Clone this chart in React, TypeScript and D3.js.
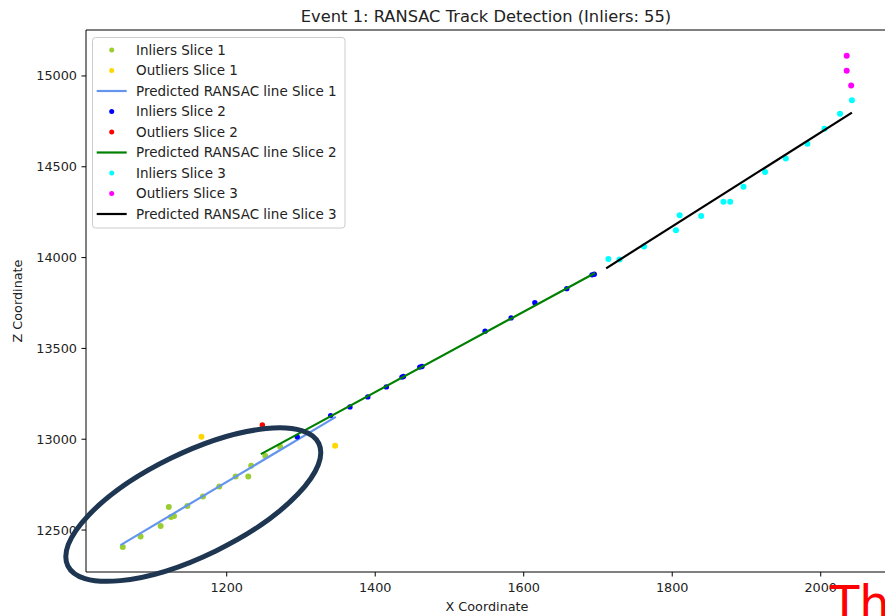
import React from "react";
import * as d3 from "d3";

// Hit positions (X, Z) per slice
const inliersSlice1: [number, number][] = [
  [1060, 12407], [1084, 12465], [1111, 12522], [1122, 12627], [1125, 12572],
  [1129, 12577], [1147, 12632], [1168, 12685], [1190, 12740], [1212, 12795],
  [1229, 12795], [1233, 12854], [1252, 12907], [1272, 12958],
];
const outliersSlice1: [number, number][] = [[1166, 13013], [1346, 12964]];
const lineSlice1: [number, number][] = [[1057, 12417], [1347, 13123]];

const inliersSlice2: [number, number][] = [
  [1295, 13013], [1340, 13130], [1366, 13178], [1390, 13233], [1415, 13288],
  [1436, 13342], [1438, 13345], [1460, 13397], [1463, 13400], [1548, 13595],
  [1583, 13668], [1615, 13752], [1658, 13829], [1692, 13905], [1695, 13908],
];
const outliersSlice2: [number, number][] = [[1248, 13079]];
const lineSlice2: [number, number][] = [[1246, 12918], [1696, 13915]];

const inliersSlice3: [number, number][] = [
  [1714, 13992], [1729, 13989], [1762, 14061], [1805, 14150], [1810, 14233],
  [1839, 14229], [1869, 14308], [1878, 14308], [1896, 14390], [1925, 14471],
  [1953, 14545], [1982, 14627], [2005, 14709], [2026, 14792], [2042, 14866],
];
const outliersSlice3: [number, number][] = [[2035, 15111], [2035, 15028], [2041, 14948]];
const lineSlice3: [number, number][] = [[1711, 13941], [2042, 14798]];

const xTicks = [1200, 1400, 1600, 1800, 2000];
const yTicks = [12500, 13000, 13500, 14000, 14500, 15000];

const title = "Event 1: RANSAC Track Detection (Inliers: 55)";

const W = 885;
const H = 616;
const left = 86, right = 890, top = 30, bottom = 572;

const x = d3.scaleLinear().domain([1010.5, 2093.3]).range([left, right]);
const y = d3.scaleLinear().domain([12269, 15253]).range([bottom, top]);

const font = "'DejaVu Sans', sans-serif";

type Layer =
  | { kind: "points"; label: string; color: string; data: [number, number][]; r: number }
  | { kind: "line"; label: string; color: string; data: [number, number][] };

const layers: Layer[] = [
  { kind: "points", label: "Inliers Slice 1", color: "#9acd32", data: inliersSlice1, r: 3 },
  { kind: "points", label: "Outliers Slice 1", color: "#ffd700", data: outliersSlice1, r: 3 },
  { kind: "line", label: "Predicted RANSAC line Slice 1", color: "#6495ed", data: lineSlice1 },
  { kind: "points", label: "Inliers Slice 2", color: "#0000ff", data: inliersSlice2, r: 2.7 },
  { kind: "points", label: "Outliers Slice 2", color: "#ff0000", data: outliersSlice2, r: 2.7 },
  { kind: "line", label: "Predicted RANSAC line Slice 2", color: "#008000", data: lineSlice2 },
  { kind: "points", label: "Inliers Slice 3", color: "#00ffff", data: inliersSlice3, r: 3 },
  { kind: "points", label: "Outliers Slice 3", color: "#ff00ff", data: outliersSlice3, r: 3 },
  { kind: "line", label: "Predicted RANSAC line Slice 3", color: "#000000", data: lineSlice3 },
];

// Highlight ring around the first slice
const ringCenter: [number, number] = [1155, 12640];

const lineGen = d3
  .line<[number, number]>()
  .x((d) => x(d[0]))
  .y((d) => y(d[1]));

export default function App() {
  const legendX = 92.5, legendY = 37.5, legendW = 252.5, legendH = 190.5;
  const rowY0 = 50, rowStep = 20.5;
  return (
    <svg
      width={W}
      height={H}
      style={{ position: "absolute", left: 0, top: 0, background: "#fff" }}
      fontFamily={font}
    >
      <defs>
        <clipPath id="plotArea">
          <rect x={left} y={top} width={right - left} height={bottom - top} />
        </clipPath>
      </defs>
      <rect x={0} y={0} width={W} height={H} fill="#fff" />

      <g clipPath="url(#plotArea)">
        {layers.map((l, i) =>
          l.kind === "points" ? (
            <g key={i} fill={l.color}>
              {l.data.map((d, j) => (
                <circle key={j} cx={x(d[0])} cy={y(d[1])} r={l.r} />
              ))}
            </g>
          ) : (
            <path key={i} d={lineGen(l.data) || ""} stroke={l.color} strokeWidth={2.2} fill="none" />
          )
        )}
      </g>

      {/* axes frame */}
      <g stroke="#000" strokeWidth={1} fill="none">
        <line x1={left} y1={top} x2={left} y2={bottom} />
        <line x1={left} y1={bottom} x2={right} y2={bottom} />
        <line x1={left} y1={top} x2={right} y2={top} />
        <line x1={right} y1={top} x2={right} y2={bottom} />
      </g>

      {/* x ticks */}
      {xTicks.map((t) => (
        <g key={t} transform={`translate(${x(t)},${bottom})`}>
          <line y1={0} y2={4.5} stroke="#000" strokeWidth={1} />
          <text y={19.5} textAnchor="middle" fontSize={12.8} fill="#222">
            {t}
          </text>
        </g>
      ))}
      {/* y ticks */}
      {yTicks.map((t) => (
        <g key={t} transform={`translate(${left},${y(t)})`}>
          <line x1={0} x2={-4.5} stroke="#000" strokeWidth={1} />
          <text x={-9} dy="0.35em" textAnchor="end" fontSize={12.8} fill="#222">
            {t}
          </text>
        </g>
      ))}

      <text x={487} y={611} textAnchor="middle" fontSize={12.8} fill="#222">
        X Coordinate
      </text>
      <text
        transform={`translate(22,${(top + bottom) / 2}) rotate(-90)`}
        textAnchor="middle"
        fontSize={12.8}
        fill="#222"
      >
        Z Coordinate
      </text>
      <text x={486} y={22} textAnchor="middle" fontSize={16.3} fill="#222">
        {title}
      </text>

      {/* legend */}
      <rect
        x={legendX}
        y={legendY}
        width={legendW}
        height={legendH}
        rx={3}
        fill="#fff"
        fillOpacity={0.8}
        stroke="#ccc"
        strokeWidth={1}
      />
      {layers.map((l, i) => {
        const cy = rowY0 + i * rowStep;
        return (
          <g key={i}>
            {l.kind === "points" ? (
              <circle cx={111.7} cy={cy} r={2.5} fill={l.color} />
            ) : (
              <line x1={96.7} x2={126.7} y1={cy} y2={cy} stroke={l.color} strokeWidth={2.2} />
            )}
            <text x={136} y={cy} dy="0.35em" fontSize={13.5} fill="#222">
              {l.label}
            </text>
          </g>
        );
      })}

      {/* highlight ring */}
      <ellipse
        cx={0}
        cy={0}
        rx={139.6}
        ry={51.5}
        transform={`translate(${x(ringCenter[0])},${y(ringCenter[1])}) rotate(-26)`}
        fill="none"
        stroke="#1e3651"
        strokeWidth={5}
      />

      <text x={830} y={620} fontSize={48} fill="#ff0000">
        Th
      </text>
    </svg>
  );
}
